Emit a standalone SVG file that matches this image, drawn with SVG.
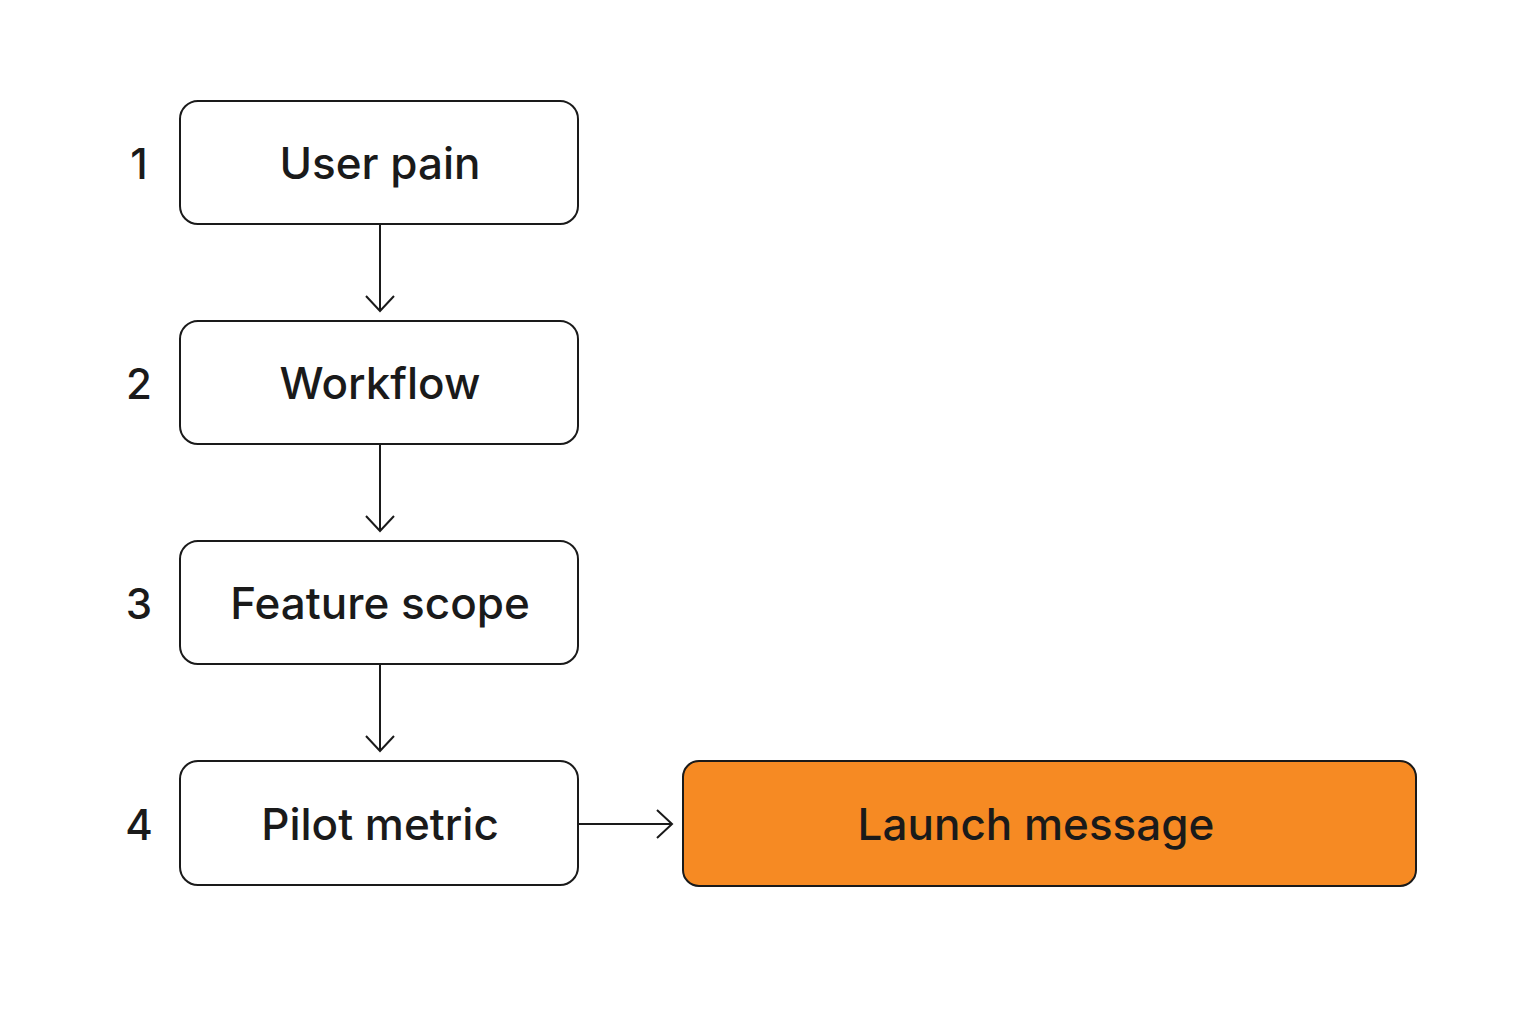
<svg xmlns="http://www.w3.org/2000/svg" width="1536" height="1024" viewBox="0 0 1536 1024">
<style>
.box{fill:#fff;stroke:#1a1a1a;stroke-width:2}
.lbl{font-family:Inter,"Liberation Sans",sans-serif;font-size:44px;font-weight:500;fill:#1a1a1a;text-anchor:middle;dominant-baseline:central}
.num{font-family:Inter,"Liberation Sans",sans-serif;font-size:42px;font-weight:500;fill:#1a1a1a;text-anchor:middle;dominant-baseline:central}
.con{stroke:#1a1a1a;stroke-width:2;fill:none}
</style>
<rect width="1536" height="1024" fill="#fff"/>
<g id="n1"><text class="num" x="139" y="163">1</text><rect class="box" x="180" y="101" width="398" height="123" rx="18"/><text class="lbl" x="380" y="163">User pain</text></g>
<g id="n2"><text class="num" x="139" y="383">2</text><rect class="box" x="180" y="321" width="398" height="123" rx="18"/><text class="lbl" x="380" y="383">Workflow</text></g>
<g id="n3"><text class="num" x="139" y="603">3</text><rect class="box" x="180" y="541" width="398" height="123" rx="18"/><text class="lbl" x="380" y="603">Feature scope</text></g>
<g id="n4"><text class="num" x="139" y="824">4</text><rect class="box" x="180" y="761" width="398" height="124" rx="18"/><text class="lbl" x="380" y="824">Pilot metric</text></g>
<g id="n5"><rect x="683" y="761" width="733" height="125" rx="16" fill="#f68a23" stroke="#1a1a1a" stroke-width="2"/><text class="lbl" x="1036" y="824">Launch message</text></g>
<g id="connectors">
<path class="con" d="M380 224V311M366 296L380 311L394 296"/>
<path class="con" d="M380 444V531M366 516L380 531L394 516"/>
<path class="con" d="M380 664V751M366 736L380 751L394 736"/>
<path class="con" d="M578 824H672M657 810L672 824L657 838"/>
</g>
</svg>
